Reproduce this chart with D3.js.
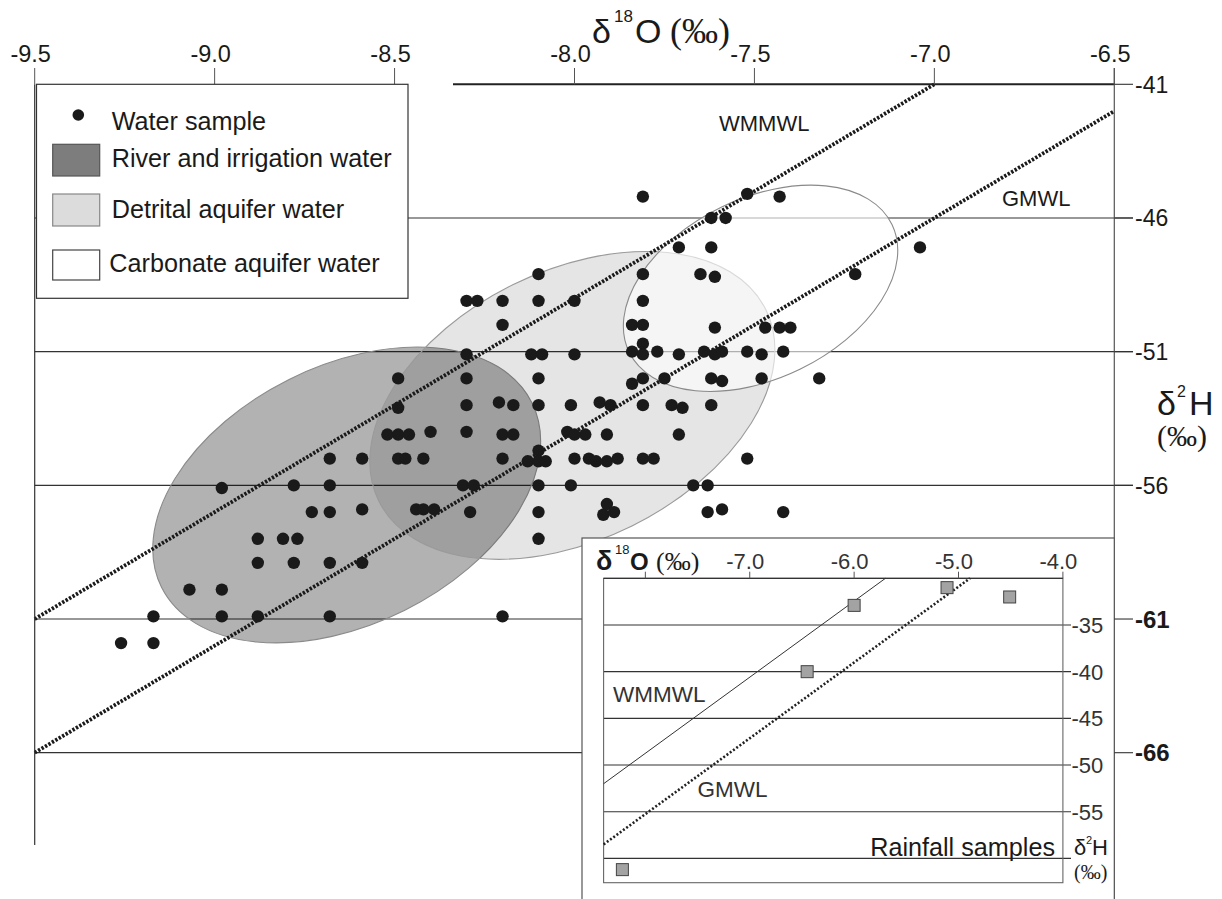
<!DOCTYPE html>
<html><head><meta charset="utf-8">
<script src="https://cdn.jsdelivr.net/npm/d3@7"></script>
<style>
body{margin:0;background:#fff}
svg{display:block}
text{font-family:"Liberation Sans",Arial,Helvetica,sans-serif;fill:#1a1a1a}
.serif{font-family:"Liberation Serif","Times New Roman",serif}
</style>
</head><body>
<svg id="chart" width="1222" height="899"></svg>
<script>
// ---------- DATA ----------
const xTicks = [-9.5, -9.0, -8.5, -8.0, -7.5, -7.0, -6.5];
const yTicks = [-41, -46, -51, -56, -61, -66];

// Water samples: [δ18O, δ2H]
const waterSamples = [
 [-7.81,-45.2],[-7.52,-45.1],[-7.43,-45.2],
 [-7.62,-46.0],[-7.58,-46.0],
 [-7.71,-47.1],[-7.62,-47.1],[-7.04,-47.1],
 [-8.10,-48.1],[-7.81,-48.1],[-7.65,-48.1],[-7.61,-48.2],[-7.22,-48.1],
 [-8.30,-49.1],[-8.27,-49.1],[-8.20,-49.1],[-8.10,-49.1],[-8.00,-49.1],[-7.81,-49.1],
 [-8.20,-50.0],[-7.84,-50.0],[-7.81,-50.0],[-7.61,-50.1],[-7.47,-50.1],[-7.43,-50.1],[-7.40,-50.1],
 [-8.30,-51.1],[-8.12,-51.1],[-8.09,-51.1],[-8.00,-51.1],[-7.81,-50.7],[-7.84,-51.0],[-7.81,-51.1],[-7.77,-51.0],[-7.71,-51.1],[-7.64,-51.0],[-7.61,-51.1],[-7.59,-51.0],[-7.52,-51.0],[-7.48,-51.1],[-7.42,-51.0],
 [-8.49,-52.0],[-8.30,-52.0],[-8.10,-52.0],[-7.84,-52.2],[-7.81,-52.0],[-7.75,-52.0],[-7.62,-52.0],[-7.59,-52.1],[-7.48,-52.0],[-7.32,-52.0],
 [-8.49,-53.1],[-8.30,-53.0],[-8.21,-52.9],[-8.17,-53.0],[-8.10,-53.0],[-8.01,-53.0],[-7.93,-52.9],[-7.90,-53.0],[-7.81,-53.0],[-7.73,-53.0],[-7.70,-53.1],[-7.62,-53.0],
 [-8.52,-54.1],[-8.49,-54.1],[-8.46,-54.1],[-8.40,-54.0],[-8.30,-54.0],[-8.20,-54.1],[-8.17,-54.1],[-8.02,-54.0],[-8.00,-54.1],[-7.97,-54.1],[-7.91,-54.1],[-7.71,-54.1],
 [-8.10,-54.7],
 [-8.68,-55.0],[-8.59,-55.0],[-8.49,-55.0],[-8.47,-55.0],[-8.42,-55.0],[-8.20,-55.0],[-8.13,-55.1],[-8.10,-55.1],[-8.08,-55.1],[-8.00,-55.0],[-7.96,-55.0],[-7.94,-55.1],[-7.91,-55.1],[-7.88,-55.0],[-7.81,-55.0],[-7.78,-55.0],[-7.52,-55.0],
 [-8.98,-56.1],[-8.78,-56.0],[-8.68,-56.0],[-8.31,-56.0],[-8.28,-56.0],[-8.10,-56.0],[-8.01,-56.0],[-7.67,-56.0],[-7.63,-56.0],
 [-8.73,-57.0],[-8.68,-57.0],[-8.59,-56.9],[-8.44,-56.9],[-8.42,-56.9],[-8.39,-56.9],[-8.29,-57.0],[-8.10,-57.0],[-7.92,-57.1],[-7.91,-56.7],[-7.89,-57.0],[-7.63,-57.0],[-7.59,-56.9],[-7.42,-57.0],
 [-8.88,-58.0],[-8.81,-58.0],[-8.77,-58.0],[-8.10,-58.0],
 [-8.88,-58.9],[-8.78,-58.9],[-8.68,-58.9],[-8.59,-58.9],
 [-9.07,-59.9],[-8.98,-59.9],
 [-9.17,-60.9],[-8.98,-60.9],[-8.88,-60.9],[-8.68,-60.9],[-8.20,-60.9],
 [-9.26,-61.9],[-9.17,-61.9]
];

// Meteoric water lines (end points)
const wmmwlMain = [[-9.5,-61.0],[-7.0,-41.0]];
const gmwlMain  = [[-9.5,-66.0],[-6.5,-42.0]];

// Water-type fields (centre in ‰, semi-axes in ‰ units, tilt in degrees)
const riverField     = {cx:-8.633, cy:-56.36, rx:0.575, ry:4.83, tilt:-26.5};
const detritalField  = {cx:-8.006, cy:-53.01, rx:0.600, ry:5.03, tilt:-26.3};
const carbonateField = {cx:-7.483, cy:-48.63, rx:0.406, ry:3.37, tilt:-25.9};

const legendLabels = ["Water sample","River and irrigation water","Detrital aquifer water","Carbonate aquifer water"];

// Inset: rainfall samples
const rainO18 = [-6.00, -6.45, -5.11, -4.51, -8.22];
const rainH2  = [-32.9, -40.0, -31.0, -32.0, -61.2];
const insetXTicks = [-8.0, -7.0, -6.0, -5.0, -4.0];
const insetYTicks = [-35, -40, -45, -50, -55, -60];
const wmmwlInset = [[-8.4,-52.0],[-5.70,-30.0]];
const gmwlInset  = [[-8.4,-58.5],[-4.89,-30.0]];

// ---------- DRAW ----------
const svg = d3.select("#chart");
const x = d3.scaleLinear().domain([-9.5,-6.5]).range([34.7,1114.3]);
const y = d3.scaleLinear().domain([-41,-66]).range([84.3,752.7]);

const ink = "#1a1a1a";

// gridlines
const gridG = svg.append("g");
yTicks.forEach(v => {
  if (v === -41) return;
  const x2 = (v >= -56) ? 1133 : 582;
  gridG.append("line").attr("x1", x(-9.5)).attr("x2", x2)
    .attr("y1", y(v)).attr("y2", y(v))
    .attr("stroke", "#333").attr("stroke-width", 1.2);
});

// ellipses
function drawField(f, fill, op, stroke) {
  const cx = x(f.cx), cy = y(f.cy);
  const a = x(f.cx + f.rx) - cx;
  const b = y(f.cy - f.ry) - cy;
  svg.append("ellipse").attr("cx", cx).attr("cy", cy).attr("rx", a).attr("ry", b)
    .attr("transform", `rotate(${f.tilt},${cx},${cy})`)
    .attr("fill", fill).attr("fill-opacity", op)
    .attr("stroke", stroke).attr("stroke-width", 1.1);
}
drawField(riverField, "#000", 0.30, "#8a8a8a");
drawField(detritalField, "#000", 0.10, "#9a9a9a");
drawField(carbonateField, "#fff", 0.62, "#8a8a8a");

// water lines
const line = d3.line().x(d => x(d[0])).y(d => y(d[1]));
[wmmwlMain, gmwlMain].forEach(d => {
  svg.append("path").attr("d", line(d)).attr("fill", "none")
    .attr("stroke", ink).attr("stroke-width", 3.8).attr("stroke-dasharray", "2.4,1.6");
});

// water samples
svg.append("g").selectAll("circle").data(waterSamples).join("circle")
  .attr("cx", d => x(d[0])).attr("cy", d => y(d[1])).attr("r", 6.2).attr("fill", ink);

// line labels
svg.append("text").attr("x", 719).attr("y", 131).attr("font-size", 22).text("WMMWL");
svg.append("text").attr("x", 1002).attr("y", 206).attr("font-size", 22).text("GMWL");

// frame: left border
svg.append("line").attr("x1", x(-9.5)).attr("x2", x(-9.5)).attr("y1", y(-41)).attr("y2", 845)
  .attr("stroke", "#333").attr("stroke-width", 1.2);
// top axis line
svg.append("line").attr("x1", 453).attr("x2", x(-6.5)).attr("y1", y(-41)).attr("y2", y(-41))
  .attr("stroke", "#222").attr("stroke-width", 2);
// top ticks + labels
const topG = svg.append("g");
xTicks.forEach(v => {
  topG.append("line").attr("x1", x(v)).attr("x2", x(v)).attr("y1", 68).attr("y2", y(-41))
    .attr("stroke", "#555").attr("stroke-width", 1);
  topG.append("text").attr("x", x(v) - 4).attr("y", 62).attr("text-anchor", "middle")
    .attr("font-size", 23.5).text(d3.format(".1f")(v).replace("−","-"));
});
// right axis
svg.append("line").attr("x1", x(-6.5)).attr("x2", x(-6.5)).attr("y1", 68).attr("y2", 905)
  .attr("stroke", "#555").attr("stroke-width", 1.2);

// legend
const lg = svg.append("g");
lg.append("rect").attr("x", 36.5).attr("y", 84.3).attr("width", 371.5).attr("height", 214)
  .attr("fill", "#fff").attr("stroke", "#333").attr("stroke-width", 1.2);
lg.append("circle").attr("cx", 78.3).attr("cy", 115).attr("r", 5.8).attr("fill", ink);
const sw = [
  {y:144.3, h:31.7, fill:"#7d7d7d", stroke:"#555"},
  {y:194, h:32, fill:"#dcdcdc", stroke:"#888"},
  {y:250, h:30, fill:"#fff", stroke:"#444"}
];
sw.forEach(s => lg.append("rect").attr("x", 52.7).attr("y", s.y).attr("width", 47).attr("height", s.h)
  .attr("fill", s.fill).attr("stroke", s.stroke).attr("stroke-width", 1.2));
const lgBase = [129.5, 167.3, 218.3, 271.7];
const lgX = [111.7, 111.7, 111.7, 109.3];
legendLabels.forEach((t, i) => lg.append("text").attr("x", lgX[i]).attr("y", lgBase[i])
  .attr("font-size", 25.2).text(t));

// titles
const t1 = svg.append("text").attr("y", 43);
t1.append("tspan").attr("x", 592).attr("font-size", 34).text("δ");
t1.append("tspan").attr("x", 614).attr("dy", -21).attr("font-size", 17).text("18");
t1.append("tspan").attr("x", 635).attr("dy", 21).attr("font-size", 34).text("O");
t1.append("tspan").attr("x", 670).attr("font-size", 36).attr("class", "serif").text("(‰)");

const t2 = svg.append("text").attr("y", 415);
t2.append("tspan").attr("x", 1157).attr("font-size", 34).text("δ");
t2.append("tspan").attr("x", 1177).attr("dy", -18).attr("font-size", 16).text("2");
t2.append("tspan").attr("x", 1189).attr("dy", 18).attr("font-size", 34).text("H");
svg.append("text").attr("x", 1157).attr("y", 446).attr("font-size", 30).attr("class", "serif").text("(‰)");

// ---------- INSET ----------
const ins = svg.append("g");
ins.append("rect").attr("x", 582).attr("y", 538).attr("width", 1114.3 - 582).attr("height", 380)
  .attr("fill", "#fff").attr("stroke", "#555").attr("stroke-width", 1.2);

// right axis ticks of main chart
yTicks.forEach(v => {
  svg.append("line").attr("x1", x(-6.5)).attr("x2", 1133).attr("y1", y(v)).attr("y2", y(v))
    .attr("stroke", "#333").attr("stroke-width", 1.1);
  svg.append("text").attr("x", 1135).attr("y", y(v)).attr("dy", "0.36em")
    .attr("font-size", v <= -61 ? 24 : 23).attr("font-weight", v <= -61 ? "bold" : "normal")
    .text(String(v));
});

const ix = d3.scaleLinear().domain([-8.4,-4.0]).range([603.6,1062.9]);
const iy = d3.scaleLinear().domain([-30,-62.6]).range([578.3,882.7]);

// inner gridlines + right labels
insetYTicks.forEach(v => {
  ins.append("line").attr("x1", ix(-8.4)).attr("x2", 1071).attr("y1", iy(v)).attr("y2", iy(v))
    .attr("stroke", "#333").attr("stroke-width", 1.1);
  if (v !== -60) ins.append("text").attr("x", 1071.5).attr("y", iy(v)).attr("dy", "0.36em")
    .attr("font-size", 22).style("fill", "#333").text(String(v));
});
// inner frame
ins.append("rect").attr("x", ix(-8.4)).attr("y", iy(-30)).attr("width", ix(-4) - ix(-8.4))
  .attr("height", iy(-62.6) - iy(-30)).attr("fill", "none").attr("stroke", "#666").attr("stroke-width", 1.1);
ins.append("line").attr("x1", ix(-8.4)).attr("x2", ix(-4)).attr("y1", iy(-30)).attr("y2", iy(-30))
  .attr("stroke", "#333").attr("stroke-width", 1.3);
// top ticks + labels
insetXTicks.forEach(v => {
  ins.append("line").attr("x1", ix(v)).attr("x2", ix(v)).attr("y1", 571.7).attr("y2", iy(-30))
    .attr("stroke", "#555").attr("stroke-width", 1);
  if (v !== -8.0) ins.append("text").attr("x", ix(v) - 4.5).attr("y", 568.5).attr("text-anchor", "middle")
    .attr("font-size", 22).style("fill", "#333").text(d3.format(".1f")(v).replace("−","-"));
});
// inset lines
const iline = d3.line().x(d => ix(d[0])).y(d => iy(d[1]));
ins.append("path").attr("d", iline(wmmwlInset)).attr("fill", "none").attr("stroke", "#333").attr("stroke-width", 1);
ins.append("path").attr("d", iline(gmwlInset)).attr("fill", "none").attr("stroke", "#222")
  .attr("stroke-width", 2.6).attr("stroke-dasharray", "2,2");
// rainfall samples
ins.append("g").selectAll("rect").data(rainO18).join("rect")
  .attr("x", (d) => ix(d) - 6).attr("y", (d, i) => iy(rainH2[i]) - 6)
  .attr("width", 12).attr("height", 12)
  .attr("fill", "#a3a3a3").attr("stroke", "#444").attr("stroke-width", 1);
// inset labels
ins.append("text").attr("x", 613).attr("y", 701.7).attr("font-size", 22.5).style("fill", "#333").text("WMMWL");
ins.append("text").attr("x", 697.5).attr("y", 797).attr("font-size", 22.5).style("fill", "#333").text("GMWL");
ins.append("text").attr("x", 1055).attr("y", 856).attr("text-anchor", "end").attr("font-size", 25.2).text("Rainfall samples");
const t3 = ins.append("text").attr("y", 570);
t3.append("tspan").attr("x", 596).attr("font-size", 27).attr("font-weight", "bold").text("δ");
t3.append("tspan").attr("x", 615).attr("dy", -16).attr("font-size", 13).text("18");
t3.append("tspan").attr("x", 630).attr("dy", 16).attr("font-size", 24).attr("font-weight", "bold").text("O");
t3.append("tspan").attr("x", 656).attr("font-size", 26).attr("class", "serif").text("(‰)");
const t4 = ins.append("text").attr("y", 855);
t4.append("tspan").attr("x", 1074).attr("font-size", 22).text("δ");
t4.append("tspan").attr("x", 1086).attr("dy", -11).attr("font-size", 11).text("2");
t4.append("tspan").attr("x", 1092).attr("dy", 11).attr("font-size", 22).text("H");
ins.append("text").attr("x", 1074).attr("y", 879).attr("font-size", 20).attr("class", "serif").text("(‰)");
</script>
</body></html>
